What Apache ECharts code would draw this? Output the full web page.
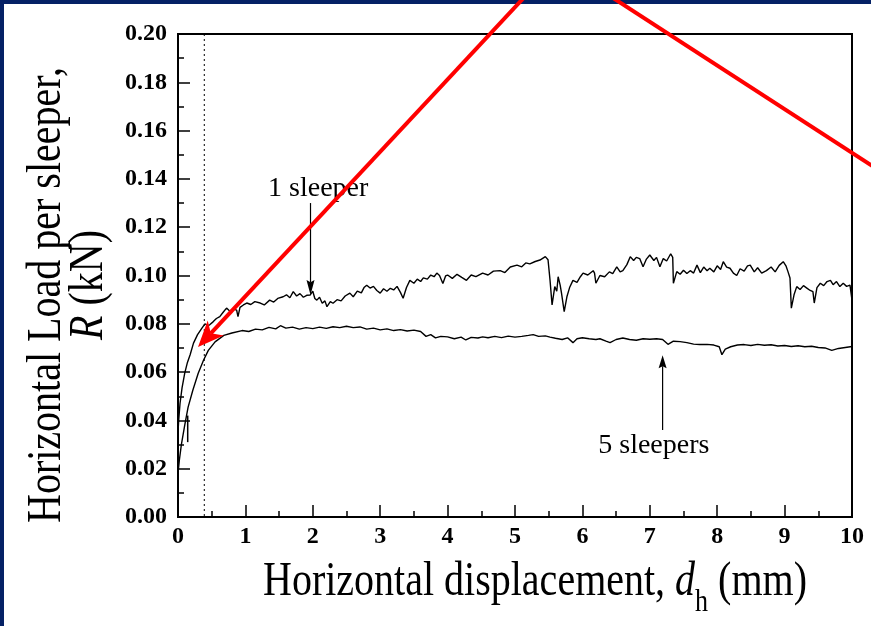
<!DOCTYPE html>
<html>
<head>
<meta charset="utf-8">
<title>Horizontal load per sleeper</title>
<script src="https://cdn.jsdelivr.net/npm/echarts@6.0.0/dist/echarts.min.js"></script>
<style>
  html, body { margin: 0; padding: 0; background: #fff; }
  #frame {
    position: relative; width: 871px; height: 626px; box-sizing: border-box;
    border-top: 4px solid #052165; border-left: 4px solid #052165; background: #fff;
  }
  #chart { position: absolute; left: -4px; top: -4px; width: 871px; height: 626px; }
</style>
</head>
<body>
<div id="frame"><div id="chart"></div></div>
<script>
// Courbe "1 sleeper" : [déplacement (mm), charge (kN)]
const oneSleeper = [
  [0, 0.035], [0.01, 0.040], [0.03, 0.047], [0.06, 0.0535], [0.10, 0.0596], [0.14, 0.0640],
  [0.18, 0.0672], [0.23, 0.0720], [0.29, 0.0755], [0.35, 0.0780], [0.40, 0.0800], [0.44, 0.0792],
  [0.47, 0.0796], [0.52, 0.0808], [0.57, 0.0822], [0.62, 0.0830], [0.67, 0.0848], [0.72, 0.0865],
  [0.77, 0.0852], [0.82, 0.0862], [0.87, 0.0857], [0.89, 0.0830], [0.92, 0.0868], [0.97, 0.0878],
  [1.02, 0.0886], [1.08, 0.0880], [1.14, 0.0892], [1.22, 0.0886], [1.28, 0.0878], [1.36, 0.0898],
  [1.42, 0.0890], [1.48, 0.0905], [1.56, 0.0912], [1.61, 0.0920], [1.66, 0.0908], [1.71, 0.0933],
  [1.76, 0.0915], [1.81, 0.0925], [1.86, 0.0910], [1.91, 0.0918], [1.96, 0.0919], [2.00, 0.0935],
  [2.03, 0.0905], [2.06, 0.0898], [2.10, 0.0910], [2.14, 0.0885], [2.18, 0.0895], [2.21, 0.0871],
  [2.26, 0.0892], [2.30, 0.0885], [2.36, 0.0900], [2.42, 0.0895], [2.48, 0.0915], [2.55, 0.0927],
  [2.60, 0.0912], [2.66, 0.0935], [2.72, 0.0928], [2.76, 0.0950], [2.80, 0.0960], [2.85, 0.0948],
  [2.90, 0.0955], [2.95, 0.0938], [3.00, 0.0927], [3.05, 0.0945], [3.10, 0.0935], [3.15, 0.0947],
  [3.20, 0.0940], [3.25, 0.0955], [3.30, 0.0930], [3.34, 0.0906], [3.39, 0.0950], [3.44, 0.0980],
  [3.50, 0.0968], [3.55, 0.0985], [3.60, 0.0975], [3.64, 0.0990], [3.70, 0.0985], [3.75, 0.1002],
  [3.80, 0.0995], [3.84, 0.1010], [3.88, 0.1000], [3.93, 0.0967], [3.97, 0.0998], [4.00, 0.1002],
  [4.07, 0.0988], [4.14, 0.1005], [4.21, 0.0992], [4.28, 0.0980], [4.35, 0.1002], [4.42, 0.0995],
  [4.52, 0.1010], [4.60, 0.1002], [4.68, 0.1018], [4.78, 0.1020], [4.85, 0.1012], [4.93, 0.1035],
  [5.03, 0.1043], [5.10, 0.1036], [5.16, 0.1052], [5.22, 0.1048], [5.30, 0.1058], [5.37, 0.1064],
  [5.45, 0.1078], [5.49, 0.1065], [5.52, 0.0980], [5.55, 0.0878], [5.59, 0.0954], [5.62, 0.0935],
  [5.64, 0.0995], [5.67, 0.0960], [5.69, 0.0927], [5.73, 0.0850], [5.77, 0.0912], [5.81, 0.0950],
  [5.86, 0.0980], [5.92, 0.0972], [5.97, 0.0995], [6.01, 0.1010], [6.08, 0.1002], [6.16, 0.1020],
  [6.18, 0.1010], [6.20, 0.0968], [6.26, 0.1000], [6.33, 0.0995], [6.40, 0.1015], [6.45, 0.1008],
  [6.51, 0.1036], [6.56, 0.1015], [6.60, 0.1020], [6.66, 0.1045], [6.71, 0.1078], [6.76, 0.1062],
  [6.80, 0.1075], [6.85, 0.1070], [6.90, 0.1036], [6.95, 0.1068], [7.00, 0.1085], [7.06, 0.1062],
  [7.10, 0.1075], [7.15, 0.1036], [7.20, 0.1070], [7.25, 0.1060], [7.31, 0.1090], [7.34, 0.1075],
  [7.35, 0.0968], [7.40, 0.1016], [7.45, 0.1005], [7.50, 0.1022], [7.55, 0.1008], [7.60, 0.1020],
  [7.65, 0.1010], [7.70, 0.1043], [7.75, 0.1012], [7.80, 0.1035], [7.85, 0.1020], [7.89, 0.1030],
  [7.95, 0.1015], [8.00, 0.1040], [8.05, 0.1025], [8.09, 0.1057], [8.14, 0.1035], [8.19, 0.1030],
  [8.24, 0.1010], [8.29, 0.1000], [8.34, 0.1028], [8.40, 0.1018], [8.45, 0.1040], [8.49, 0.1043],
  [8.55, 0.1015], [8.60, 0.1032], [8.66, 0.1010], [8.73, 0.1020], [8.80, 0.1035], [8.86, 0.1015],
  [8.92, 0.1042], [8.98, 0.1057], [9.02, 0.1040], [9.05, 0.1016], [9.08, 0.0990], [9.10, 0.0865],
  [9.14, 0.0920], [9.18, 0.0954], [9.23, 0.0942], [9.28, 0.0958], [9.33, 0.0948], [9.38, 0.0938],
  [9.42, 0.0933], [9.44, 0.0886], [9.48, 0.0950], [9.53, 0.0968], [9.58, 0.0958], [9.63, 0.0975],
  [9.68, 0.0980], [9.72, 0.0962], [9.77, 0.0975], [9.82, 0.0954], [9.87, 0.0968], [9.92, 0.0955],
  [9.97, 0.0960], [10.0, 0.0898]
];

// Courbe "5 sleepers"
const fiveSleepers = [
  [0, 0.018], [0.02, 0.0235], [0.05, 0.030], [0.10, 0.038], [0.15, 0.0455], [0.22, 0.0525],
  [0.30, 0.0595], [0.38, 0.065], [0.45, 0.069], [0.55, 0.0725], [0.68, 0.0752], [0.80, 0.0762],
  [0.95, 0.0772], [1.05, 0.0768], [1.15, 0.0778], [1.25, 0.0775], [1.35, 0.0785], [1.45, 0.0779],
  [1.52, 0.0792], [1.60, 0.0782], [1.70, 0.0786], [1.80, 0.0778], [1.90, 0.0784], [2.00, 0.0780],
  [2.10, 0.0786], [2.20, 0.0781], [2.30, 0.0788], [2.40, 0.0784], [2.50, 0.0790], [2.60, 0.0784],
  [2.70, 0.0787], [2.80, 0.0778], [2.90, 0.0782], [3.00, 0.0775], [3.10, 0.0779], [3.20, 0.0772],
  [3.30, 0.0776], [3.40, 0.0770], [3.50, 0.0774], [3.60, 0.0768], [3.68, 0.0748], [3.75, 0.0755],
  [3.82, 0.0742], [3.90, 0.0748], [4.00, 0.0746], [4.10, 0.0738], [4.20, 0.0745], [4.27, 0.0733],
  [4.35, 0.0744], [4.45, 0.0741], [4.52, 0.0746], [4.60, 0.0742], [4.70, 0.0748], [4.80, 0.0743],
  [4.90, 0.0749], [5.00, 0.0745], [5.10, 0.0748], [5.20, 0.0752], [5.27, 0.0755], [5.35, 0.0748],
  [5.45, 0.0750], [5.52, 0.0745], [5.60, 0.0740], [5.70, 0.0735], [5.78, 0.0742], [5.86, 0.0722],
  [5.92, 0.0738], [6.00, 0.0742], [6.10, 0.0738], [6.20, 0.0735], [6.26, 0.0738], [6.35, 0.0728],
  [6.41, 0.0722], [6.50, 0.0735], [6.60, 0.0741], [6.70, 0.0735], [6.80, 0.0732], [6.90, 0.0738],
  [7.00, 0.0736], [7.10, 0.0738], [7.19, 0.0735], [7.27, 0.0715], [7.35, 0.0728], [7.45, 0.0726],
  [7.55, 0.0722], [7.65, 0.0716], [7.74, 0.0714], [7.85, 0.0715], [7.95, 0.0712], [8.03, 0.0705],
  [8.07, 0.0672], [8.12, 0.0695], [8.20, 0.0705], [8.30, 0.0712], [8.40, 0.0714], [8.50, 0.0710],
  [8.60, 0.0715], [8.70, 0.0711], [8.80, 0.0713], [8.90, 0.0708], [9.00, 0.0710], [9.10, 0.0706],
  [9.20, 0.0709], [9.30, 0.0705], [9.40, 0.0707], [9.50, 0.0702], [9.60, 0.0700], [9.70, 0.0690],
  [9.80, 0.0698], [9.90, 0.0702], [10.0, 0.0706]
];

// Annotations (en coordonnées de données)
const dottedLineX = 0.39;
const stubSegment = [[0.144, 0.042], [0.144, 0.031]];
const oneSleeperArrow = [[1.966, 0.130], [1.966, 0.0919]];
const fiveSleepersArrow = [[7.19, 0.036], [7.19, 0.067]];
const oneSleeperLabelAt = [2.08, 0.1358];
const fiveSleepersLabelAt = [7.06, 0.0296];
const redArrow = [[5.13, 0.2150], [0.297, 0.0704]];
const redLine = [[6.45, 0.2150], [10.32, 0.1450]];

const serif = '"Liberation Serif", "Times New Roman", serif';

document.addEventListener('DOMContentLoaded', function() {
    const chart = echarts.init(document.getElementById('chart'), null, { renderer: 'canvas' });

    const axisColor = '#000';
    const tickLabel = { fontFamily: serif, fontWeight: 'bold', fontSize: 24, color: '#000' };

    chart.setOption({
        animation: false,
        backgroundColor: 'transparent',
        grid: {
            left: 178, right: 19, top: 34, bottom: 109,
            show: true, borderColor: '#000', borderWidth: 2,
            outerBoundsMode: 'none'
        },
        xAxis: {
            type: 'value', min: 0, max: 10, interval: 1,
            axisLine: { lineStyle: { color: axisColor, width: 2 } },
            axisTick: { inside: true, length: 12, lineStyle: { color: axisColor, width: 1.5 } },
            minorTick: { show: true, splitNumber: 2, length: 6, lineStyle: { color: axisColor, width: 1.5 } },
            splitLine: { show: false },
            axisLabel: Object.assign({ margin: 8 }, tickLabel)
        },
        yAxis: {
            type: 'value', min: 0, max: 0.2, interval: 0.02,
            axisLine: { lineStyle: { color: axisColor, width: 2 } },
            axisTick: { inside: true, length: 12, lineStyle: { color: axisColor, width: 1.5 } },
            minorTick: { show: true, splitNumber: 2, length: 6, lineStyle: { color: axisColor, width: 1.5 } },
            splitLine: { show: false },
            axisLabel: Object.assign({ margin: 11, formatter: v => v.toFixed(2) }, tickLabel)
        },
        series: [
            {
                name: '1 sleeper', type: 'line', data: oneSleeper,
                symbol: 'none', lineStyle: { color: '#000', width: 1.4 }
            },
            {
                name: '5 sleepers', type: 'line', data: fiveSleepers,
                symbol: 'none', lineStyle: { color: '#000', width: 1.4 }
            }
        ]
    });

    // Conversion données -> pixels
    const px = p => chart.convertToPixel({ gridIndex: 0 }, p);

    function arrow(from, to, color, width, len, half, notch) {
        const a = px(from), b = px(to);
        const dx = b[0] - a[0], dy = b[1] - a[1];
        const d = Math.hypot(dx, dy);
        const ux = dx / d, uy = dy / d, nx = -uy, ny = ux;
        const bx = b[0] - ux * len, by = b[1] - uy * len;
        const nb = [b[0] - ux * len * notch, b[1] - uy * len * notch];
        return [
            { type: 'line', z: 50, shape: { x1: a[0], y1: a[1], x2: nb[0], y2: nb[1] },
              style: { stroke: color, lineWidth: width } },
            { type: 'polygon', z: 51,
              shape: { points: [b, [bx + nx * half, by + ny * half], nb, [bx - nx * half, by - ny * half]] },
              style: { fill: color } }
        ];
    }

    // Mesure des morceaux du titre de l'axe X (indice "h")
    const ctx = document.createElement('canvas').getContext('2d');
    const measure = (txt, font) => { ctx.font = font; return ctx.measureText(txt).width; };
    const fMain = '40px ' + serif, fItal = 'italic 40px ' + serif, fSub = '26px ' + serif;
    const wA = measure('Horizontal displacement, ', fMain);
    const wD = measure('d', fItal);
    const wH = measure('h', fSub);
    const wB = measure(' (mm)', fMain);
    const xStart = 535 - (wA + wD + wH + wB) / 2;

    const dTop = px([dottedLineX, 0.2]), dBot = px([dottedLineX, 0]);
    const s0 = px(stubSegment[0]), s1 = px(stubSegment[1]);
    const r0 = px(redLine[0]), r1 = px(redLine[1]);
    const l1 = px(oneSleeperLabelAt), l5 = px(fiveSleepersLabelAt);

    const graphics = [
        { type: 'line', z: 5, shape: { x1: dTop[0], y1: dTop[1], x2: dBot[0], y2: dBot[1] },
          style: { stroke: '#000', lineWidth: 1, lineDash: [2, 3] } },
        { type: 'line', z: 5, shape: { x1: s0[0], y1: s0[1], x2: s1[0], y2: s1[1] },
          style: { stroke: '#000', lineWidth: 1.5 } },
        { type: 'text', z: 20, x: l1[0], y: l1[1],
          style: { text: '1 sleeper', font: '28px ' + serif, fill: '#000', textAlign: 'center', textVerticalAlign: 'middle' } },
        { type: 'text', z: 20, x: l5[0], y: l5[1],
          style: { text: '5 sleepers', font: '28px ' + serif, fill: '#000', textAlign: 'center', textVerticalAlign: 'middle' } },
        // Titre de l'axe X
        { type: 'text', z: 20, x: xStart, y: 582, scaleY: 1.2,
          style: {
              text: '{n|Horizontal displacement, }{i|d}',
              textAlign: 'left', textVerticalAlign: 'middle', fill: '#000',
              rich: {
                  n: { fontFamily: serif, fontSize: 40 },
                  i: { fontFamily: serif, fontSize: 40, fontStyle: 'italic' }
              }
          } },
        { type: 'text', z: 20, x: xStart + wA + wD, y: 603, scaleY: 1.2,
          style: { text: 'h', font: fSub, fill: '#000', textAlign: 'left', textVerticalAlign: 'middle' } },
        { type: 'text', z: 20, x: xStart + wA + wD + wH, y: 582, scaleY: 1.2,
          style: { text: ' (mm)', font: fMain, fill: '#000', textAlign: 'left', textVerticalAlign: 'middle' } },
        // Titre de l'axe Y
        { type: 'text', z: 20, x: 47.5, y: 295, rotation: Math.PI / 2, scaleY: 1.2,
          style: { text: 'Horizontal Load per sleeper,', font: fMain, fill: '#000',
                   textAlign: 'center', textVerticalAlign: 'middle' } },
        { type: 'text', z: 20, x: 89, y: 285, rotation: Math.PI / 2, scaleY: 1.2,
          style: {
              text: '{i|R}{n| (kN)}', textAlign: 'center', textVerticalAlign: 'middle', fill: '#000',
              rich: {
                  n: { fontFamily: serif, fontSize: 40 },
                  i: { fontFamily: serif, fontSize: 40, fontStyle: 'italic' }
              }
          } },
        { type: 'line', z: 60, shape: { x1: r0[0], y1: r0[1], x2: r1[0], y2: r1[1] },
          style: { stroke: '#ff0000', lineWidth: 4 } }
    ]
    .concat(arrow(oneSleeperArrow[0], oneSleeperArrow[1], '#000', 1.2, 15, 4, 0.85))
    .concat(arrow(fiveSleepersArrow[0], fiveSleepersArrow[1], '#000', 1.2, 13, 4, 0.85))
    .concat(arrow(redArrow[0], redArrow[1], '#ff0000', 4, 26, 11, 0.72));

    chart.setOption({ graphic: graphics });
});
</script>
</body>
</html>
